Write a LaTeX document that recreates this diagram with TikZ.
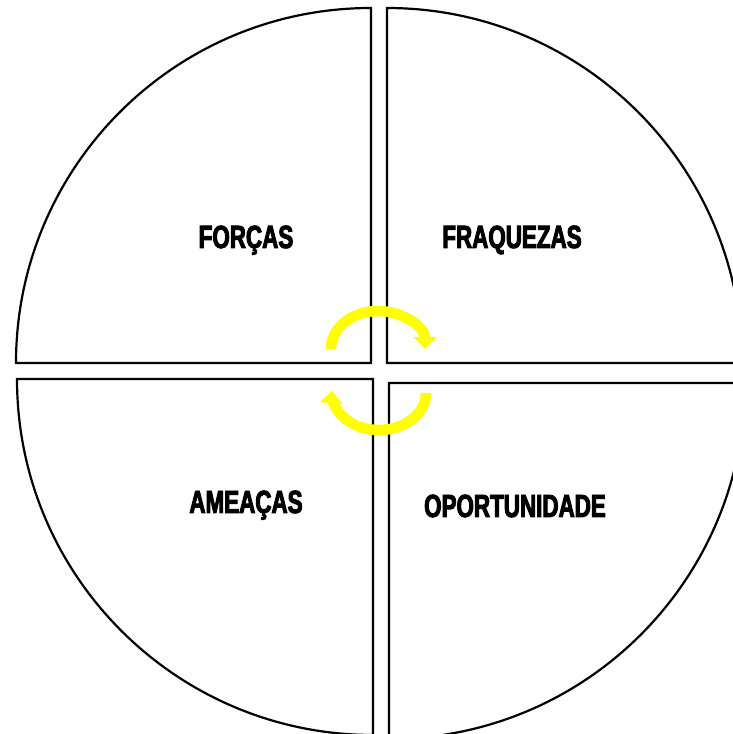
\documentclass[tikz,border=0pt]{standalone}
\usepackage{fontspec}
\usepackage{xcolor}
\usetikzlibrary{arrows.meta}
\newfontfamily\labelfont{Liberation Sans}[FakeStretch=0.70, BoldFeatures={FakeBold=3}]
\definecolor{cycyellow}{HTML}{FFFF00}
\tikzset{
  quad/.style={draw=black, line width=2.2pt, line join=miter, fill=white},
  lbl/.style={anchor=base, inner sep=0pt, font=\labelfont\bfseries\fontsize{32}{34}\selectfont},
  cycarrow/.style={-{Triangle[length=12pt, width=22pt]}, line width=10.5pt, draw=cycyellow}
}

\begin{document}
\begin{tikzpicture}[x=1pt, y=1pt]
    \useasboundingbox (0,0) rectangle (733,734);
    \clip (0,0) rectangle (733,734);
    \draw[quad] (371,371) -- (16,371) arc[start angle=180, end angle=90, radius=355] -- cycle;
    \draw[quad] (387,371) -- (742,371) arc[start angle=0, end angle=90, radius=355] -- cycle;
    \draw[quad] (373,355) -- (17,355) arc[start angle=180, end angle=270, radius=356] -- cycle;
    \draw[quad] (389,351) -- (745,351) arc[start angle=0, end angle=-90, radius=356] -- cycle;

    \node[lbl] (forcas) at (246,486) {FORÇAS};
    \node[lbl] (fraquezas) at (512,486) {FRAQUEZAS};
    \node[lbl] (ameacas) at (246,221) {AMEAÇAS};
    \node[lbl] (oport) at (515,217) {OPORTUNIDADE};

    \coordinate (topstart) at (331,385);
    \coordinate (botstart) at (426,341);
    \draw[cycarrow] (topstart) arc[start angle=180, end angle=0, x radius=47, y radius=38];
    \draw[cycarrow] (botstart) arc[start angle=0, end angle=-183, x radius=47, y radius=37];
  \end{tikzpicture}
\end{document}
